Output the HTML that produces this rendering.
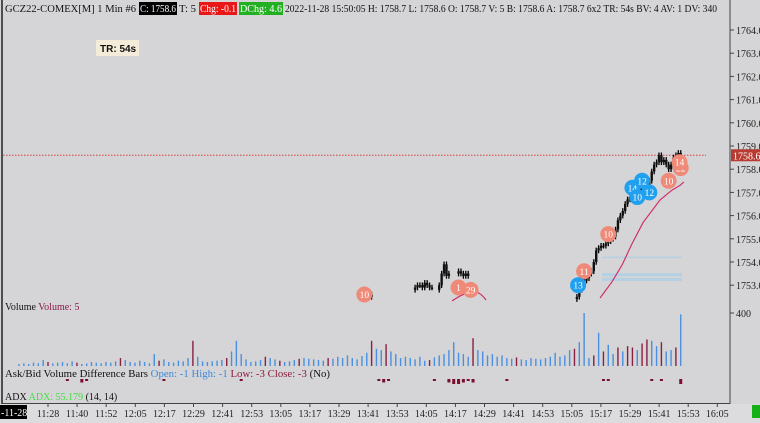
<!DOCTYPE html>
<html><head><meta charset="utf-8"><style>
body{margin:0;background:#d5d5d7;}
svg{display:block;font-family:"Liberation Serif",serif;}
</style></head><body>
<svg id="c" width="760" height="423" viewBox="0 0 760 423" xmlns="http://www.w3.org/2000/svg">
<rect x="0" y="0" width="760" height="423" fill="#d5d5d7"/>
<rect x="0" y="404" width="760" height="19" fill="#dcdcde"/>
<line x1="2" y1="0" x2="2" y2="404" stroke="#222" stroke-width="1.5"/>
<line x1="730" y1="0" x2="730" y2="404" stroke="#444" stroke-width="1"/>
<line x1="2" y1="403.5" x2="730" y2="403.5" stroke="#444" stroke-width="1"/>
<g id="header" font-size="10">
<text x="5" y="12" fill="#111" textLength="131" lengthAdjust="spacingAndGlyphs">GCZ22-COMEX[M]  1 Min  #6</text>
<rect x="139" y="2" width="38" height="13" fill="#000"/>
<text x="140" y="12" fill="#fff" textLength="36" lengthAdjust="spacingAndGlyphs">C: 1758.6</text>
<text x="179" y="12" fill="#111" textLength="17" lengthAdjust="spacingAndGlyphs">T: 5</text>
<rect x="199" y="2" width="38" height="13" fill="#e81818"/>
<text x="200" y="12" fill="#fff" textLength="36" lengthAdjust="spacingAndGlyphs">Chg: -0.1</text>
<rect x="239" y="2" width="44" height="13" fill="#22b022"/>
<text x="240" y="12" fill="#fff" textLength="42" lengthAdjust="spacingAndGlyphs">DChg: 4.6</text>
<text x="285" y="12" fill="#111" textLength="432" lengthAdjust="spacingAndGlyphs">2022-11-28 15:50:05 H: 1758.7 L: 1758.6 O: 1758.7 V: 5 B: 1758.6 A: 1758.7 6x2 TR: 54s BV: 4 AV: 1 DV: 340</text>
</g>
<rect x="96" y="40" width="43" height="16" fill="#f4ecd9"/>
<text x="100" y="52" font-family="Liberation Sans,sans-serif" font-weight="bold" font-size="10" fill="#111">TR: 54s</text>
<g id="yaxis"></g>
<g id="plot"></g>
<g id="vol"></g>
<text x="5" y="310" font-size="10" fill="#111">Volume <tspan fill="#8a1a4a">Volume: 5</tspan></text>
<text x="5" y="377" font-size="10" fill="#111" textLength="325" lengthAdjust="spacingAndGlyphs">Ask/Bid Volume Difference Bars <tspan fill="#3a8ae0">  Open: -1  High: -1</tspan><tspan fill="#8a1a3a">  Low: -3  Close: -3</tspan>  (No)</text>
<text x="5" y="400" font-size="10" fill="#111">ADX  <tspan fill="#40e040">ADX: 55.179</tspan>  (14, 14)</text>
<rect x="0" y="405" width="27" height="14" fill="#000"/>
<text x="1" y="416" font-size="10" fill="#fff">-11-28</text>
<g id="xaxis"></g>
<rect x="752" y="405" width="8" height="13" fill="#18b018"/>
</svg>
<script>
const NS="http://www.w3.org/2000/svg";
const priceTicks=[1764,1763,1762,1761,1760,1759,1758,1757,1756,1755,1754,1753];
const timeLabels=["11:28","11:40","11:52","12:05","12:17","12:29","12:41","12:53","13:05","13:17","13:29","13:41","13:53","14:05","14:17","14:29","14:41","14:53","15:05","15:17","15:29","15:41","15:53","16:05"];
const candleMin=[129,130,131,132,133,134,152,153,154,155,156,157,158,159,162,163,164,165,166,170,171,172,173,174,
219,220,221,222,223,224,225,226,227,228,229,230,231,232,233,234,235,236,237,238,239,240,241,242,243,244,245,246,247,248,249,250,251,252,253,254,255,256,257,258,259,260,261,262];
const candleOpen=[1752.6,1752.5,1752.6,1752.7,1752.6,1752.6,1752.8,1752.9,1753.0,1753.0,1752.9,1753.1,1753.0,1752.9,1752.8,1753.0,1753.5,1753.9,1753.4,1753.5,1753.6,1753.5,1753.4,1753.5,
1752.4,1752.5,1752.8,1753.0,1753.2,1753.3,1753.5,1753.6,1754.0,1754.5,1754.6,1754.7,1754.7,1754.8,1754.9,1755.0,1755.1,1755.4,1755.8,1756.0,1756.2,1756.5,1756.7,1756.8,1756.9,1757.0,1757.1,1757.2,1757.1,1757.2,1757.3,1757.5,1757.9,1758.2,1758.3,1758.6,1758.3,1758.4,1758.2,1758.0,1758.2,1758.5,1758.6,1758.7];
const candleClose=[1752.5,1752.6,1752.7,1752.6,1752.6,1752.5,1752.9,1753.0,1753.0,1752.9,1753.1,1753.0,1752.9,1752.9,1753.0,1753.5,1753.9,1753.4,1753.5,1753.6,1753.5,1753.4,1753.5,1753.4,
1752.5,1752.8,1753.0,1753.2,1753.3,1753.5,1753.6,1754.0,1754.5,1754.6,1754.7,1754.7,1754.8,1754.9,1755.0,1755.1,1755.4,1755.8,1756.0,1756.2,1756.5,1756.7,1756.8,1756.9,1757.0,1757.1,1757.2,1757.1,1757.2,1757.3,1757.5,1757.9,1758.2,1758.3,1758.6,1758.3,1758.4,1758.2,1758.0,1758.2,1758.5,1758.6,1758.7,1758.6];
const bubbleMin=[131,170,175,222,219.5,232,242,246,244,249,257,262,261.5];
const bubblePrice=[1752.6,1752.9,1752.8,1753.6,1753.0,1755.2,1757.2,1757.5,1756.8,1757.0,1757.5,1758.05,1758.3];
const bubbleText=["10","1","29","11","13","10","14","12","10","12","10","22","14"];
const bubbleSide=["s","s","s","s","b","s","b","b","b","b","s","s","s"];
const maMin=[228.6,233.5,237.7,241.8,246.4,253.4,258.4,261.7,263.3];
const maPrice=[1752.45,1753.14,1753.87,1754.78,1755.7,1756.67,1757.1,1757.3,1757.45];
const volume=[15,20,15,25,20,45,30,20,25,30,20,35,25,15,20,30,25,20,30,25,35,60,45,30,25,40,30,20,90,40,50,30,25,40,35,60,190,70,35,30,35,40,45,60,110,190,90,50,30,35,45,70,60,50,40,30,35,45,55,60,55,50,45,40,60,55,70,60,80,60,50,75,100,190,130,120,165,110,90,60,70,60,50,70,40,45,65,80,90,120,180,100,90,70,210,120,110,80,90,70,80,60,55,65,50,45,60,55,50,60,70,100,70,80,120,130,180,400,60,80,250,110,160,90,140,110,150,140,120,170,200,190,150,180,110,120,140,390];
const volColor="bbbbbbrbbbbbrbbbbbbbbrbbbbbbbrbbbbbbrbbbbbbrbbbbbbbrbbrbbbrbbbbbrbbbbbbbbrbbrbbbbbbbbrbbbbbbbbrbbbbbbbbrbbbbbbbbbbbrbbbrbrbbrbrrbrrbbrbbrb";
const volStartMin=-12, volStepMin=2;
const abMin=[8,14,16,48,80,137,139,141,160,166,168,170,172,174,176,190,230,232,250,254,262];
const abVal=[-1,-2,-1,-1,-1,-1,-2,-1,-1,-2,-3,-3,-2,-1,-2,-1,-1,-1,-1,-1,-3];

const X=m=>48+m*2.415;
const Y=p=>30+(1764-p)*23.2;
const VY=v=>366-v*53/400;
function mk(tag,parent,attrs){const e=document.createElementNS(NS,tag);for(const k in attrs)e.setAttribute(k,attrs[k]);parent.appendChild(e);return e;}
const yaxis=document.getElementById('yaxis'),plot=document.getElementById('plot'),vol=document.getElementById('vol'),xaxis=document.getElementById('xaxis');
priceTicks.forEach(p=>{
  const l=mk('line',yaxis,{x1:730,x2:734,y1:Y(p),y2:Y(p),stroke:'#444'});
  
  
  const t=mk('text',yaxis,{x:736,y:Y(p)+4,'font-size':10,fill:'#222'});t.textContent=p.toFixed(1);
  
  
});
{const l=mk('line',yaxis,{x1:730,x2:734,y1:VY(400),y2:VY(400),stroke:'#444'});


const t=mk('text',yaxis,{x:736,y:VY(400)+4,'font-size':10,fill:'#222'});t.textContent='400';

}
timeLabels.forEach((s,i)=>{
  const x=48+i*29.1;
  const l=mk('line',xaxis,{x1:x,x2:x,y1:403,y2:407,stroke:'#444'});
  
  
  const t=mk('text',xaxis,{x:x,y:417,'font-size':10,fill:'#222','text-anchor':'middle'});t.textContent=s;
  
  
});
{const l=mk('line',plot,{x1:3,x2:706,y1:Y(1758.6),y2:Y(1758.6),stroke:'#d04040','stroke-dasharray':'1.5,1.5','stroke-width':1});


const r=mk('rect',yaxis,{x:731,y:Y(1758.6)-6,width:29,height:12,fill:'#b83a30'});


const t=mk('text',yaxis,{x:733,y:Y(1758.6)+4,'font-size':10,fill:'#fff'});t.textContent='1758.6';

}
[[1754.2,1.5],[1753.45,3],[1753.25,3]].forEach(b=>{
  const r=mk('rect',plot,{x:602,y:Y(b[0])-b[1]/2,width:80,height:b[1],fill:'#b4d0e2'});
  
  
});
candleMin.forEach((m,i)=>{
  const o=candleOpen[i],c=candleClose[i],x=X(m);
  const hi=Math.max(o,c)+0.12,lo=Math.min(o,c)-0.12;
  const w=mk('line',plot,{x1:x,x2:x,y1:Y(hi),y2:Y(lo),stroke:'#000','stroke-width':1.3});
  
  
  const b=mk('rect',plot,{x:x-1.2,y:Y(Math.max(o,c)),width:2.4,height:Math.max(1.5,Math.abs(o-c)*23.2),fill:'#111'});
  
  
});
{const pts=maMin.map((m,i)=>X(m)+','+Y(maPrice[i])).join(' ');
const p=mk('polyline',plot,{points:pts,fill:'none',stroke:'#d0306a','stroke-width':1.2});

}
{const p=mk('path',plot,{d:'M452 301 Q465 292 475 291 Q482 294 486 300',fill:'none',stroke:'#d0306a','stroke-width':1.2});

}
bubbleMin.forEach((m,i)=>{
  const x=X(m),y=Y(bubblePrice[i]);
  const c=mk('circle',plot,{cx:x,cy:y,r:8,fill:bubbleSide[i]==='b'?'#22a0f0':'#f08a78'});
  
  
  const t=mk('text',plot,{x:x,y:y+3.5,'font-size':9.5,fill:'#fff','text-anchor':'middle'});t.textContent=bubbleText[i];
  
  
});
volume.forEach((v,i)=>{
  const x=X(volStartMin+i*volStepMin);
  const r=mk('rect',vol,{x:x-0.7,y:VY(v),width:1.4,height:366-VY(v),fill:volColor[i]==='r'?'#8a2040':'#4a90e0'});
  
  
});
abMin.forEach((m,i)=>{
  const x=X(m),v=abVal[i];
  const r=mk('rect',vol,{x:x-1.5,y:379,width:3,height:Math.abs(v)*1.5+0.5,fill:'#7a1030'});
  
  
});
</script>
</body></html>
